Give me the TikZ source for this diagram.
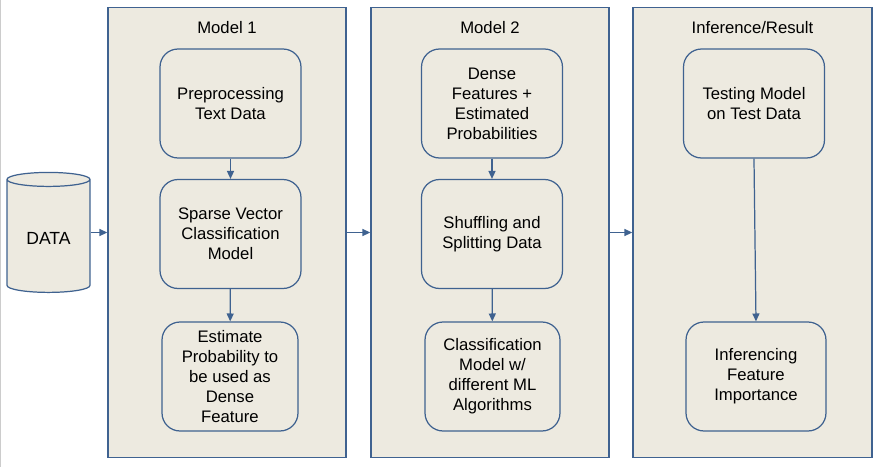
\documentclass[tikz,border=0pt]{standalone}
\usepackage{fontspec}
\setmainfont{Liberation Sans}
\usetikzlibrary{arrows.meta,shapes.geometric,positioning}
\definecolor{panelfill}{HTML}{EDEAE0}
\definecolor{lineblue}{HTML}{3F6290}
\tikzset{
  panel/.style={draw=lineblue, line width=0.8pt, fill=panelfill, minimum width=4.76cm, minimum height=9cm, inner sep=0pt},
  stage/.style={draw=lineblue, line width=0.7pt, rounded corners=0.36cm, minimum width=2.82cm, minimum height=2.18cm, align=center, font=\fontsize{9.5}{11.4}\selectfont},
  title/.style={font=\fontsize{9.5}{11.4}\selectfont},
  flow/.style={draw=lineblue, line width=0.7pt, -{Triangle[length=4.5pt,width=4pt]}}
}

\begin{document}
\begin{tikzpicture}[x=0.02cm, y=-0.02cm]
            \useasboundingbox (0,0) rectangle (877,467);
            \draw[gray!40, line width=0.6pt] (0.3,0) -- (0.3,467);

            % data source
            \node (data) at (48.5,238) [cylinder, shape border rotate=90, aspect=0.25, draw=lineblue, line width=0.7pt, fill=panelfill, minimum width=1.66cm, minimum height=2.4cm, font=\fontsize{10}{12}\selectfont] {DATA};

            % panels
            \node (m1) at (227,232.5) [panel] {};
            \node (m2) at (490,232.5) [panel] {};
            \node (inf) at (752.5,232.5) [panel, minimum width=4.78cm] {};
            \node[title] at (227,28) {Model 1};
            \node[title] at (490,28) {Model 2};
            \node[title] at (752.5,28) {Inference/Result};

            % model 1
            \node (pre) at (230.5,103.5) [stage] {Preprocessing\\Text Data};
            \node (svc) at (230.5,234) [stage] {Sparse Vector\\Classification\\Model};
            \node (est) at (230,376.5) [stage, minimum width=2.72cm] {Estimate\\Probability to\\be used as\\Dense\\Feature};

            % model 2
            \node (dense) at (492,103.5) [stage] {Dense\\Features +\\Estimated\\Probabilities};
            \node (shuf) at (492,234) [stage] {Shuffling and\\Splitting Data};
            \node (cls) at (492.5,376.5) [stage, minimum width=2.7cm] {Classification\\Model w/\\different ML\\Algorithms};

            % inference
            \node (test) at (754,103.5) [stage] {Testing Model\\on Test Data};
            \node (imp) at (756,376.5) [stage, minimum width=2.8cm] {Inferencing\\Feature\\Importance};

            % arrows
            \draw[flow] (data.east |- m1.west) -- (m1.west);
            \draw[flow] (m1.east) -- (m2.west);
            \draw[flow] (m2.east) -- (inf.west);
            \draw[flow] (pre) -- (svc);
            \draw[flow] (svc) -- (est);
            \draw[flow] (dense) -- (shuf);
            \draw[flow] (shuf) -- (cls);
            \draw[flow] (test.south) -- (imp.north);
\end{tikzpicture}
\end{document}
